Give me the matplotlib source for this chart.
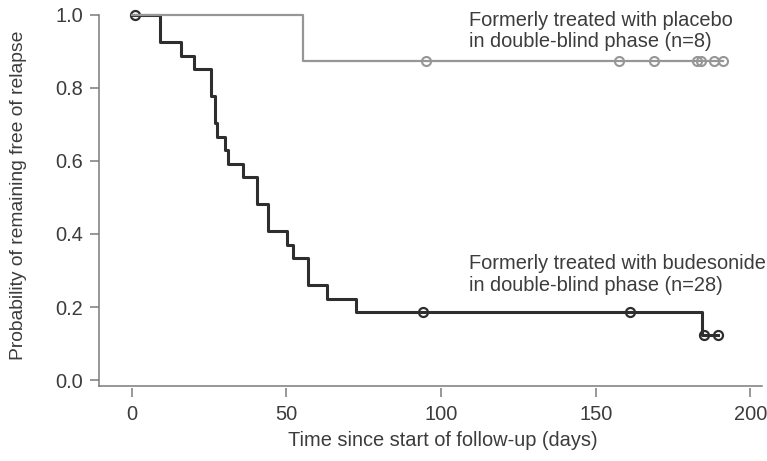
import numpy as np
import matplotlib.pyplot as plt

plt.rcParams['font.family'] = ['Liberation Sans', 'DejaVu Sans']

# follow-up times (days) and status (1 = relapse, 0 = censored)
bud_time = [1, 9, 9, 16, 20, 25.5, 25.5, 27, 27, 27.7, 30, 31, 36, 40.5, 40.5,
            44, 44, 50.3, 52.2, 57, 57, 63, 72.4, 94, 161.2, 184.4, 185, 189.4]
bud_event = [0, 1, 1, 1, 1, 1, 1, 1, 1, 1, 1, 1, 1, 1, 1,
             1, 1, 1, 1, 1, 1, 1, 1, 0, 0, 1, 0, 0]
pla_time = [55.3, 95.0, 157.6, 168.9, 182.7, 184.0, 188.3, 191.0]
pla_event = [1, 0, 0, 0, 0, 0, 0, 0]

bud_label = 'Formerly treated with budesonide\nin double-blind phase (n=28)'
pla_label = 'Formerly treated with placebo\nin double-blind phase (n=8)'


def km(times, events):
    t = np.array(times, dtype=float)
    e = np.array(events)
    order = np.argsort(t, kind='stable')
    t, e = t[order], e[order]
    xs, ys = [0.0], [1.0]
    s = 1.0
    for u in np.unique(t[e == 1]):
        n = np.sum(t >= u)
        d = np.sum((t == u) & (e == 1))
        s = s * (1 - d / n)
        xs.append(u)
        ys.append(s)
    xs.append(t.max())
    ys.append(s)
    # survival value at each censored time
    cx = t[e == 0]
    cy = [ys[np.searchsorted(xs[:-1], c, side='right') - 1] for c in cx]
    return np.array(xs), np.array(ys), cx, np.array(cy)


fig = plt.figure(figsize=(7.67, 4.61), dpi=100)
ax = fig.add_axes([0.129, 0.163, 0.864, 0.837])

axis_col = '#7a7a7a'
text_col = '#3c3c3c'
fs = 14.4

bx, by, bcx, bcy = km(bud_time, bud_event)
px, py, pcx, pcy = km(pla_time, pla_event)

ax.step(bx, by, where='post', color='#2e2e2e', lw=2.2)
ax.plot(bcx, bcy, 'o', ms=6.5, mfc='none', mec='#2e2e2e', mew=1.6)
ax.step(px, py, where='post', color='#969696', lw=1.6)
ax.plot(pcx, pcy, 'o', ms=6.5, mfc='none', mec='#969696', mew=1.5)

ax.text(109.0, 1.012, pla_label, color=text_col, fontsize=fs,
        va='top', ha='left', linespacing=1.15)
ax.text(109.0, 0.344, bud_label, color=text_col, fontsize=fs,
        va='top', ha='left', linespacing=1.15)

ax.set_xlim(-10.6, 203.6)
ax.set_ylim(-0.016, 1.041)

for side in ['top', 'right']:
    ax.spines[side].set_visible(False)
ax.spines['left'].set_color(axis_col)
ax.spines['left'].set_linewidth(1.1)
ax.spines['left'].set_bounds(-0.016, 1.0)
# x ticks hang below the frame line, detached from it
ax.spines['bottom'].set_position(('outward', 1.5))
ax.spines['bottom'].set_color('none')
ax.plot([0, 1], [0, 0], transform=ax.transAxes, color=axis_col, lw=1.1,
        clip_on=False)

ax.set_xticks([0, 50, 100, 150, 200])
ax.set_yticks([0.0, 0.2, 0.4, 0.6, 0.8, 1.0])
ax.set_yticklabels(['0.0', '0.2', '0.4', '0.6', '0.8', '1.0'])
ax.tick_params(axis='both', colors=axis_col, labelcolor=text_col,
               labelsize=fs, width=1.1)
ax.tick_params(axis='x', length=6.3, pad=6)
ax.tick_params(axis='y', length=6.5, pad=5)

ax.set_xlabel('Time since start of follow-up (days)', fontsize=fs,
              color=text_col)
ax.set_ylabel('Probability of remaining free of relapse', fontsize=13.9,
              color=text_col)
ax.xaxis.set_label_coords(0.519, -0.118)
ax.yaxis.set_label_coords(-0.109, 0.495)

fig.savefig('out.png', dpi=100)
